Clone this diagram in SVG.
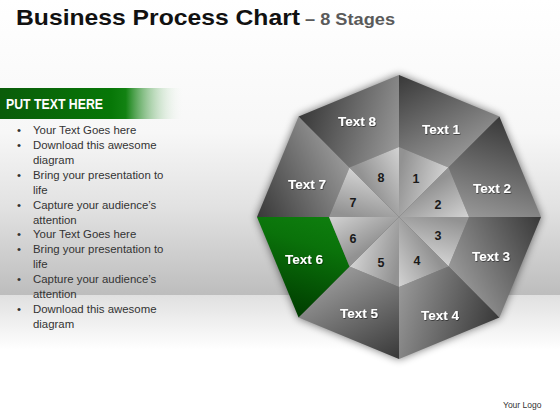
<svg xmlns="http://www.w3.org/2000/svg" xmlns:xlink="http://www.w3.org/1999/xlink" width="560" height="420" viewBox="0 0 560 420">
<defs>
<style>
.lbl{font-family:"Liberation Sans",Arial,sans-serif;font-weight:bold;font-size:13.5px;fill:#ffffff;text-anchor:middle}
.num{font-family:"Liberation Sans",Arial,sans-serif;font-weight:bold;font-size:12.5px;fill:#1a1a1a;text-anchor:middle}
.bul{font-family:"Liberation Sans",Arial,sans-serif;font-size:11.4px;fill:#333333}
</style>
<linearGradient id="wall" x1="0" y1="0" x2="0" y2="295" gradientUnits="userSpaceOnUse">
<stop offset="0" stop-color="#ffffff"/><stop offset="0.45" stop-color="#f7f7f7"/><stop offset="0.7" stop-color="#e2e2e2"/><stop offset="1" stop-color="#bdbdbd"/>
</linearGradient>
<linearGradient id="floor" x1="0" y1="295" x2="0" y2="350" gradientUnits="userSpaceOnUse">
<stop offset="0" stop-color="#e0e0e0"/><stop offset="1" stop-color="#ffffff"/>
</linearGradient>
<linearGradient id="hdr" x1="0" y1="0" x2="185" y2="0" gradientUnits="userSpaceOnUse">
<stop offset="0" stop-color="#0a5c0a"/><stop offset="0.6" stop-color="#077707"/><stop offset="0.68" stop-color="#128212"/><stop offset="1" stop-color="#ffffff" stop-opacity="0"/>
</linearGradient>
<linearGradient id="gOut" x1="399" y1="75" x2="448.5" y2="167.5" gradientUnits="userSpaceOnUse">
<stop offset="0" stop-color="#383838"/><stop offset="1" stop-color="#989898"/>
</linearGradient>
<linearGradient id="gGreen" x1="399" y1="75" x2="448.5" y2="167.5" gradientUnits="userSpaceOnUse">
<stop offset="0" stop-color="#003c00"/><stop offset="0.7" stop-color="#0a720a"/><stop offset="1" stop-color="#0e7e0e"/>
</linearGradient>
<linearGradient id="gIn" x1="399" y1="172" x2="445" y2="184" gradientUnits="userSpaceOnUse">
<stop offset="0" stop-color="#929292"/><stop offset="1" stop-color="#d4d4d4"/>
</linearGradient>
<polygon id="outer" points="399,75 499.41,116.59 448.5,167.5 399,147"/>
<polygon id="inner" points="399,217 399,147 448.5,167.5"/>
<filter id="glow" x="-20%" y="-20%" width="140%" height="140%">
<feGaussianBlur stdDeviation="4"/>
</filter>
<filter id="ts" x="-20%" y="-40%" width="140%" height="180%">
<feDropShadow dx="0.6" dy="0.8" stdDeviation="0.6" flood-color="#000" flood-opacity="0.6"/>
</filter>
</defs>

<rect x="0" y="0" width="560" height="295" fill="url(#wall)"/>
<rect x="0" y="295" width="560" height="125" fill="url(#floor)"/>

<g id="title">
<text x="16" y="25" font-family="Liberation Sans,Arial,sans-serif" font-weight="bold" font-size="22" fill="#111111" textLength="284" lengthAdjust="spacingAndGlyphs">Business Process Chart</text>
<text x="305" y="25" font-family="Liberation Sans,Arial,sans-serif" font-weight="bold" font-size="16" fill="#5a5a5a" textLength="90" lengthAdjust="spacingAndGlyphs">– 8 Stages</text>
</g>

<g id="panel">
<rect x="0" y="88" width="185" height="31" fill="url(#hdr)"/>
<text x="6" y="109" font-family="Liberation Sans,Arial,sans-serif" font-weight="bold" font-size="14.5" fill="#ffffff" textLength="97" lengthAdjust="spacingAndGlyphs">PUT TEXT HERE</text>
<g class="bul">
<text x="17" y="134">•</text><text x="33" y="134">Your Text Goes here</text>
<text x="17" y="149">•</text><text x="33" y="149">Download this awesome</text>
<text x="33" y="164">diagram</text>
<text x="17" y="179">•</text><text x="33" y="179">Bring your presentation to</text>
<text x="33" y="194">life</text>
<text x="17" y="209">•</text><text x="33" y="209">Capture your audience’s</text>
<text x="33" y="224">attention</text>
<text x="17" y="238">•</text><text x="33" y="238">Your Text Goes here</text>
<text x="17" y="253">•</text><text x="33" y="253">Bring your presentation to</text>
<text x="33" y="268">life</text>
<text x="17" y="283">•</text><text x="33" y="283">Capture your audience’s</text>
<text x="33" y="298">attention</text>
<text x="17" y="313">•</text><text x="33" y="313">Download this awesome</text>
<text x="33" y="328">diagram</text>
</g>
</g>

<g id="octagon-shadow">
<polygon points="399,75 499.41,116.59 541,217 499.41,317.41 399,359 298.59,317.41 257,217 298.59,116.59" fill="#000" opacity="0.55" filter="url(#glow)"/>
</g>

<g id="sector1">
<g><use xlink:href="#outer" fill="url(#gOut)"/><use xlink:href="#inner" fill="url(#gIn)"/></g>
<text class="lbl" x="441" y="134" filter="url(#ts)">Text 1</text><text class="num" x="416" y="183">1</text>
</g>
<g id="sector2">
<g transform="rotate(45 399 217)"><use xlink:href="#outer" fill="url(#gOut)"/><use xlink:href="#inner" fill="url(#gIn)"/></g>
<text class="lbl" x="492" y="193" filter="url(#ts)">Text 2</text><text class="num" x="438" y="209">2</text>
</g>
<g id="sector3">
<g transform="rotate(90 399 217)"><use xlink:href="#outer" fill="url(#gOut)"/><use xlink:href="#inner" fill="url(#gIn)"/></g>
<text class="lbl" x="491" y="261" filter="url(#ts)">Text 3</text><text class="num" x="438" y="240">3</text>
</g>
<g id="sector4">
<g transform="rotate(135 399 217)"><use xlink:href="#outer" fill="url(#gOut)"/><use xlink:href="#inner" fill="url(#gIn)"/></g>
<text class="lbl" x="440" y="320" filter="url(#ts)">Text 4</text><text class="num" x="417" y="265">4</text>
</g>
<g id="sector5">
<g transform="rotate(180 399 217)"><use xlink:href="#outer" fill="url(#gOut)"/><use xlink:href="#inner" fill="url(#gIn)"/></g>
<text class="lbl" x="359" y="318" filter="url(#ts)">Text 5</text><text class="num" x="381" y="267">5</text>
</g>
<g id="sector6">
<g transform="rotate(225 399 217)"><use xlink:href="#outer" fill="url(#gGreen)"/><use xlink:href="#inner" fill="url(#gIn)"/></g>
<text class="lbl" x="304" y="264" filter="url(#ts)">Text 6</text><text class="num" x="353" y="243">6</text>
</g>
<g id="sector7">
<g transform="rotate(270 399 217)"><use xlink:href="#outer" fill="url(#gOut)"/><use xlink:href="#inner" fill="url(#gIn)"/></g>
<text class="lbl" x="307" y="189" filter="url(#ts)">Text 7</text><text class="num" x="353" y="207">7</text>
</g>
<g id="sector8">
<g transform="rotate(315 399 217)"><use xlink:href="#outer" fill="url(#gOut)"/><use xlink:href="#inner" fill="url(#gIn)"/></g>
<text class="lbl" x="357" y="126" filter="url(#ts)">Text 8</text><text class="num" x="381" y="182">8</text>
</g>

<g id="connectors"/>

<text id="logo" x="503" y="408" font-family="Liberation Sans,Arial,sans-serif" font-size="8.5" fill="#333333">Your Logo</text>
</svg>
